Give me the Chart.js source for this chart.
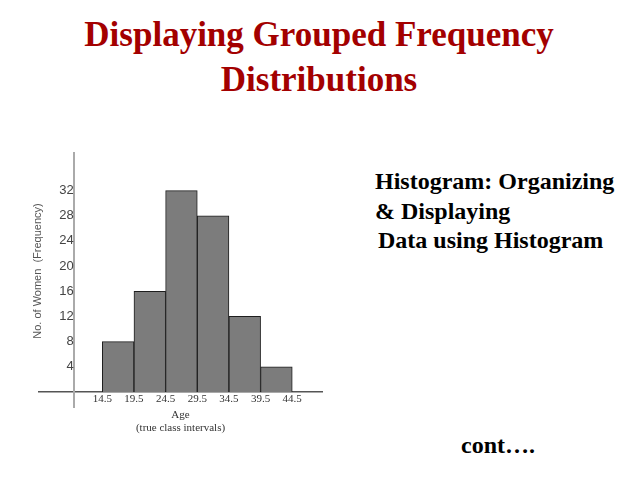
<!DOCTYPE html>
<html lang="en">
<head>
    <meta charset="UTF-8">
    <title>Displaying Grouped Frequency Distributions</title>
    <script src="https://cdn.jsdelivr.net/npm/chart.js"></script>
    <style>
        body { margin: 0; width: 638px; height: 479px; background: #fff; position: relative; overflow: hidden; }
        .title { position: absolute; left: 0; width: 638px; top: 12px; text-align: center;
                 font: bold 35px/45px "Liberation Serif", "Times New Roman", serif; color: #a30000; }
        .side { position: absolute; left: 375px; top: 167px;
                font: bold 24px/29.5px "Liberation Serif", "Times New Roman", serif; color: #000; }
        .cont { position: absolute; left: 461px; top: 431px;
                font: bold 24px/29.5px "Liberation Serif", "Times New Roman", serif; color: #000; }
        .chart-box { position: absolute; left: 0; top: 140px; width: 340px; height: 300px; }
    </style>
</head>
<body>
    <div class="title">Displaying Grouped Frequency<br>Distributions</div>
    <div class="side">Histogram: Organizing<br>&amp; Displaying<br><span style="padding-left:3px">Data using Histogram</span></div>
    <div class="cont">cont….</div>

    <div class="chart-box"><canvas id="histChart"></canvas></div>

    <script>
        // class boundaries (true class intervals) and frequencies
        const classEdges = [14.5, 19.5, 24.5, 29.5, 34.5, 39.5, 44.5];
        const frequencies = [8, 16, 32, 28, 12, 4];
        const yTickValues = [4, 8, 12, 16, 20, 24, 28, 32];

        const xTitle = ['Age', '(true class intervals)'];
        const yTitle = 'No. of Women  (Frequency)';

        // bar midpoints from the class edges
        const barData = frequencies.map((f, i) => ({ x: (classEdges[i] + classEdges[i + 1]) / 2, y: f }));

        // rotated y axis title (reads bottom to top)
        const yTitlePlugin = {
            id: 'yTitle',
            afterDraw(chart, args, opts) {
                const ctx = chart.ctx;
                ctx.save();
                ctx.translate(opts.x, opts.y);
                ctx.rotate(-Math.PI / 2);
                ctx.font = opts.font;
                ctx.fillStyle = opts.color;
                ctx.textAlign = 'center';
                ctx.textBaseline = 'middle';
                ctx.fillText(opts.text, 0, 0);
                ctx.restore();
            }
        };

        new Chart(document.getElementById('histChart'), {
            type: 'bar',
            data: {
                datasets: [{
                    data: barData,
                    backgroundColor: '#7c7c7c',
                    borderColor: '#1e1e1e',
                    borderWidth: 1,
                    barPercentage: 1,
                    categoryPercentage: 1
                }]
            },
            plugins: [yTitlePlugin],
            options: {
                responsive: true,
                maintainAspectRatio: false,
                animation: false,
                layout: { padding: { left: 39, right: 18, top: 12, bottom: 33 } },
                plugins: {
                    legend: { display: false },
                    tooltip: { enabled: false },
                    yTitle: { text: yTitle, x: 38, y: 131, color: '#555', font: '11px "Liberation Sans", Arial, sans-serif' }
                },
                scales: {
                    x: {
                        type: 'linear',
                        position: { y: 0 },
                        offset: false,
                        min: 4.5,
                        max: 49.2,
                        grid: { display: false, drawTicks: false },
                        border: { display: true, color: '#555', width: 1.5 },
                        afterBuildTicks: (scale) => { scale.ticks = classEdges.map(v => ({ value: v })); },
                        ticks: {
                            autoSkip: false,
                            maxRotation: 0,
                            padding: 1,
                            color: '#333',
                            font: { family: '"Liberation Serif", "Times New Roman", serif', size: 11 },
                            callback: (v) => v.toFixed(1)
                        },
                        title: {
                            display: true,
                            text: xTitle,
                            color: '#333',
                            padding: { top: 2, bottom: 4 },
                            font: { family: '"Liberation Serif", "Times New Roman", serif', size: 11, lineHeight: '12.5px' }
                        }
                    },
                    y: {
                        type: 'linear',
                        position: { x: 10 },
                        min: -2.4,
                        max: 38,
                        grid: { display: false, drawTicks: false },
                        border: { display: true, color: '#aaa', width: 2 },
                        afterBuildTicks: (scale) => { scale.ticks = yTickValues.map(v => ({ value: v })); },
                        ticks: {
                            padding: 5,
                            color: '#444',
                            font: { family: '"Liberation Sans Narrow", "Liberation Sans", Arial, sans-serif', size: 13 }
                        }
                    }
                }
            }
        });
    </script>
</body>
</html>
